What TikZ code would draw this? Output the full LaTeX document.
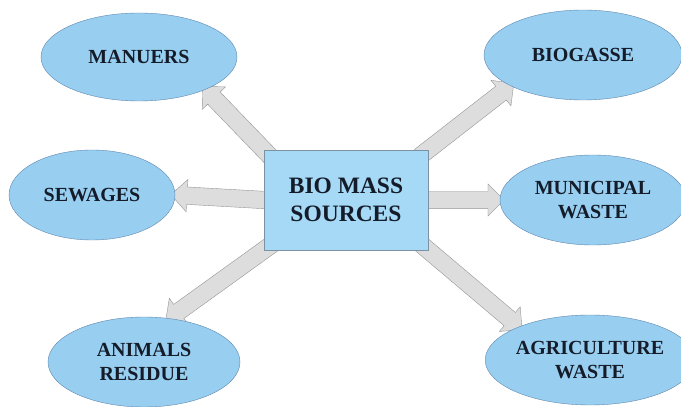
\documentclass[tikz,border=0pt]{standalone}
\usepackage{fontspec}
\setmainfont{Liberation Serif}
\usetikzlibrary{shapes.geometric,shapes.arrows,calc,backgrounds}
\definecolor{ellfill}{RGB}{152,206,240}
\definecolor{ellline}{RGB}{95,135,175}
\definecolor{boxfill}{RGB}{166,217,246}
\definecolor{boxline}{RGB}{125,145,165}
\definecolor{arrfill}{RGB}{221,221,221}
\definecolor{arrline}{RGB}{150,150,150}
\definecolor{txt}{RGB}{20,28,42}

\begin{document}
\begin{tikzpicture}[x=1pt,y=1pt,
  source/.style={ellipse,draw=ellline,fill=ellfill,inner sep=0pt,align=center,text=txt,
    font=\fontsize{20}{24}\selectfont\bfseries},
  blockarrow/.style={single arrow,draw=arrline,fill=arrfill,inner xsep=0pt,inner ysep=8.5pt,
    single arrow head extend=7.5pt}]
\useasboundingbox (0,0) rectangle (681,407);
% centre box
\node[draw=boxline,fill=boxfill,minimum width=164pt,minimum height=100pt,align=center,
  text=txt,font=\fontsize{23.5}{28}\selectfont\bfseries] (bms) at (346,207) {BIO MASS\\SOURCES};
% sources round it
\node[source,minimum width=196pt,minimum height=88pt] (manuers) at (139,350) {MANUERS};
\node[source,minimum width=198pt,minimum height=90pt] (biogasse) at (583,352) {BIOGASSE};
\node[source,minimum width=166pt,minimum height=90pt] (sewages) at (92,212) {SEWAGES};
\node[source,minimum width=186pt,minimum height=90pt] (municipal) at (593,207) {MUNICIPAL\\WASTE};
\node[source,minimum width=192pt,minimum height=90pt] (animals) at (144,45) {ANIMALS\\RESIDUE};
\node[source,minimum width=190pt,minimum height=90pt] (agri) at (590,47) {AGRICULTURE\\WASTE};
\begin{scope}[on background layer]
\foreach \from/\to in {bms.north west/manuers.-26, bms.north east/biogasse.203,
  bms.west/sewages.east, bms.east/municipal.west,
  bms.south west/animals.60, bms.south east/agri.155} % block arrows
\path let \p1=($(\from)!-15pt!(\to)$), \p2=(\to),
  \n1={atan2(\y2-\y1,\x2-\x1)}, \n2={veclen(\x2-\x1,\y2-\y1)} in
  node[blockarrow,minimum height=\n2,rotate=\n1] at ($(\p1)!0.5!(\p2)$) {};
\end{scope}
\end{tikzpicture}
\end{document}
